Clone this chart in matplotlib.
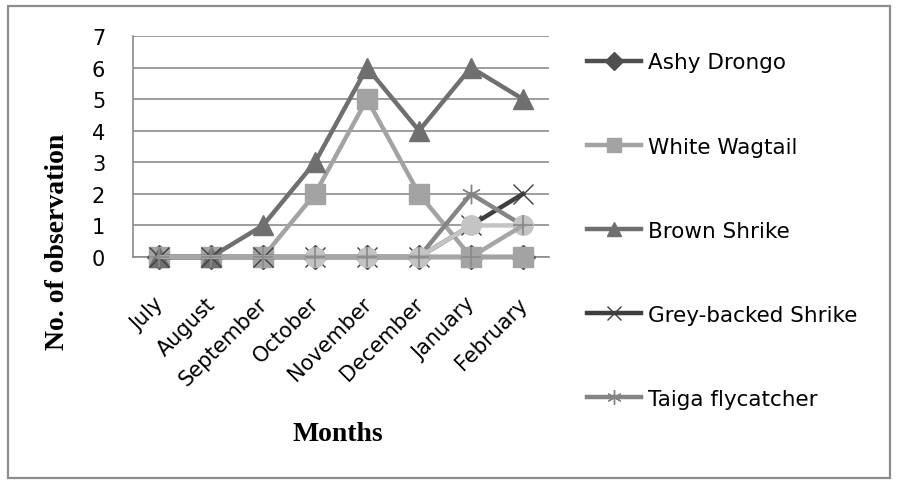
import numpy as np
import matplotlib
matplotlib.use("Agg")
import matplotlib.pyplot as plt
import matplotlib.transforms as mtransforms
from matplotlib.patches import Rectangle

months = ["July", "August", "September", "October", "November",
          "December", "January", "February"]
nan = np.nan
ashy_drongo = [0, 0, 0, 0, 0, 0, 0, 0]
white_wagtail = [0, 0, 0, 2, 5, 2, 0, 0]
brown_shrike = [0, 0, 1, 3, 6, 4, 6, 5]
grey_backed_shrike = [0, 0, 0, 0, 0, 0, 1, 2]
taiga_flycatcher = [nan, nan, nan, 0, 0, 0, 2, 1]
series_6 = [nan, nan, nan, 0, 0, 0, 1, 1]
series_7 = [0, 0, 0, 0, 0, 0, 0, 1]

W, H = 897, 485
fig = plt.figure(figsize=(W / 100, H / 100), dpi=100)
fig.patch.set_facecolor("white")

# outer chart border
fig.patches.append(Rectangle((8 / W, 6 / H), 882 / W, 472 / H,
                             transform=fig.transFigure, fill=False,
                             edgecolor="#8c8c8c", linewidth=1.6))

left, right, top, bottom = 133, 549, 37, 258
ax = fig.add_axes([left / W, 1 - bottom / H, (right - left) / W, (bottom - top) / H])

x = np.arange(len(months))
FONT = "DejaVu Sans"
tick_font = dict(family=FONT, size=15)

series = [
    ("Ashy Drongo", ashy_drongo, "#4f4f4f", "D", 12),
    ("White Wagtail", white_wagtail, "#a3a3a3", "s", 14),
    ("Brown Shrike", brown_shrike, "#6f6f6f", "^", 14),
    ("Grey-backed Shrike", grey_backed_shrike, "#3e3e3e", "x", 14),
    ("Taiga flycatcher", taiga_flycatcher, "#858585", (6, 2, 0), 14),
]

handles = []
for name, vals, col, mk, ms in series:
    h, = ax.plot(x, vals, color=col, lw=3.2, marker=mk, ms=ms,
                 mfc=col, mec=col, mew=1.0,
                 zorder=3, clip_on=False, label=name)
    handles.append(h)

ax.plot(x, series_6, color="#c4c4c4", lw=3.2, marker="o", ms=14,
        mfc="#c4c4c4", mec="#c4c4c4", zorder=3.5, clip_on=False)
ax.plot(x, series_7, color="#a6a6a6", lw=3.2, marker="+", ms=14,
        mec="#8a8a8a", mew=1.2, zorder=3.6, clip_on=False)

ax.set_xlim(-0.5, len(months) - 0.5)
ax.set_ylim(0, 7)
ax.set_yticks(range(0, 8))
ax.set_xticks(x)
ax.set_xticklabels(months, rotation=45, ha="right", rotation_mode="anchor",
                   fontdict=tick_font)
ax.set_yticklabels([str(v) for v in range(0, 8)], fontdict=tick_font)
ax.tick_params(axis="x", length=0, pad=26)
ax.tick_params(axis="y", length=0, pad=20)
shift = mtransforms.ScaledTranslation(-6 / 100, 0, fig.dpi_scale_trans)
for lbl in ax.get_xticklabels():
    lbl.set_transform(lbl.get_transform() + shift)
ax.yaxis.grid(True, color="#8c8c8c", lw=1.2)
ax.set_axisbelow(True)
for s in ("top", "right"):
    ax.spines[s].set_visible(False)
for s in ("left", "bottom"):
    ax.spines[s].set_color("#8c8c8c")
    ax.spines[s].set_linewidth(1.2)

fig.text(338 / W, 1 - 435 / H, "Months", family="Liberation Serif",
         weight="bold", size=20, ha="center", va="center")
fig.text(57 / W, 1 - 242 / H, "No. of observation", family="Liberation Serif",
         weight="bold", size=20, ha="center", va="center", rotation=90)

leg = fig.legend(handles=handles, loc="upper left",
                 bbox_to_anchor=(568 / W, 1 - 34 / H),
                 frameon=False, prop=dict(family=FONT, size=15.5),
                 handlelength=2.5, handletextpad=0.3, labelspacing=2.98,
                 markerscale=0.75)

fig.savefig("out.png", dpi=100)
